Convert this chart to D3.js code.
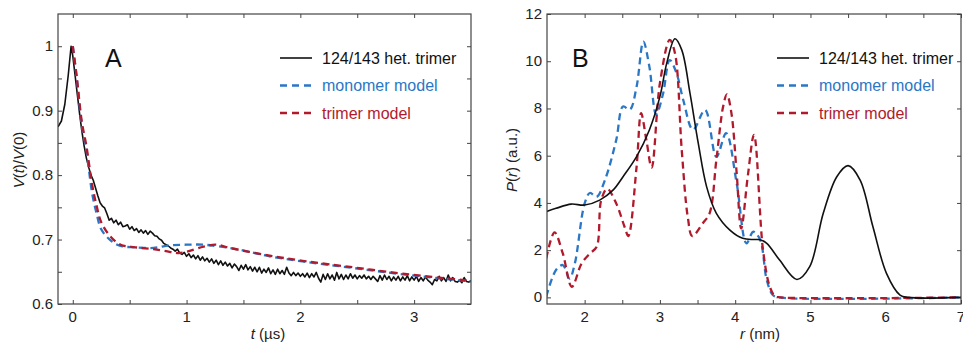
<!DOCTYPE html>
<html>
<head>
<meta charset="utf-8">
<script src="https://cdnjs.cloudflare.com/ajax/libs/d3/7.8.5/d3.min.js"></script>
<style>
  body { margin: 0; background: #fff; }
  svg { font-family: "Liberation Sans", Arial, sans-serif; }
</style>
</head>
<body>
<svg id="chart" width="963" height="343"></svg>
<script>
// ---- data ----
// panel A: dipolar evolution V(t)/V(0), t in µs
const expA = [
  [-0.13,0.875],[-0.10,0.884],[-0.07,0.91],[-0.04,0.955],[-0.015,1.0],[0.0,0.985],[0.02,0.955],
  [0.04,0.925],[0.06,0.895],[0.08,0.868],[0.10,0.845],[0.12,0.826],[0.14,0.812],[0.16,0.80],
  [0.18,0.792],[0.20,0.78],[0.22,0.768],[0.24,0.757],[0.26,0.752],[0.28,0.749],[0.30,0.74],
  [0.32,0.73],[0.34,0.733],[0.36,0.726],[0.38,0.730],[0.40,0.723],[0.42,0.727],[0.44,0.720],
  [0.46,0.721],[0.48,0.723],[0.50,0.716],[0.52,0.720],[0.54,0.714],[0.56,0.717],[0.58,0.711],
  [0.60,0.715],[0.62,0.710],[0.64,0.714],[0.66,0.708],[0.68,0.713],[0.70,0.71],[0.72,0.706],
  [0.74,0.705],[0.76,0.701],[0.78,0.699],[0.80,0.694],[0.82,0.692],[0.84,0.69],[0.86,0.687],
  [0.88,0.685],[0.90,0.682],[0.92,0.685],[0.94,0.679],[0.96,0.677],[0.98,0.680],[1.00,0.674],
  [1.02,0.678],[1.04,0.672],[1.06,0.676],[1.08,0.670],[1.10,0.675],[1.12,0.668],[1.14,0.673],
  [1.16,0.667],[1.18,0.671],[1.20,0.665],[1.22,0.670],[1.24,0.663],[1.26,0.668],[1.28,0.661],
  [1.30,0.667],[1.32,0.660],[1.34,0.665],[1.36,0.659],[1.38,0.663],[1.40,0.656],[1.42,0.662],
  [1.44,0.658],[1.46,0.652],[1.48,0.660],[1.50,0.654],[1.52,0.661],[1.54,0.653],[1.56,0.658],
  [1.58,0.651],[1.60,0.657],[1.62,0.650],[1.64,0.657],[1.66,0.648],[1.68,0.654],[1.70,0.649],
  [1.72,0.656],[1.74,0.647],[1.76,0.653],[1.78,0.646],[1.80,0.654],[1.82,0.647],[1.84,0.652],
  [1.86,0.646],[1.88,0.657],[1.90,0.648],[1.92,0.644],[1.94,0.649],[1.96,0.644],[1.98,0.648],
  [2.00,0.643],[2.02,0.647],[2.04,0.642],[2.06,0.648],[2.08,0.641],[2.10,0.647],[2.12,0.642],
  [2.14,0.649],[2.16,0.640],[2.18,0.634],[2.20,0.646],[2.22,0.638],[2.24,0.647],[2.26,0.639],
  [2.28,0.645],[2.30,0.637],[2.32,0.649],[2.34,0.639],[2.36,0.646],[2.38,0.638],[2.40,0.645],
  [2.42,0.639],[2.44,0.647],[2.46,0.640],[2.48,0.645],[2.50,0.639],[2.52,0.644],[2.54,0.640],
  [2.56,0.645],[2.58,0.639],[2.60,0.643],[2.62,0.638],[2.64,0.643],[2.66,0.639],[2.68,0.635],
  [2.70,0.644],[2.72,0.637],[2.74,0.645],[2.76,0.638],[2.78,0.643],[2.80,0.636],[2.82,0.642],
  [2.84,0.637],[2.86,0.643],[2.88,0.636],[2.90,0.642],[2.92,0.637],[2.94,0.644],[2.96,0.636],
  [2.98,0.642],[3.00,0.637],[3.02,0.643],[3.04,0.635],[3.06,0.641],[3.08,0.636],[3.10,0.642],
  [3.12,0.637],[3.14,0.634],[3.16,0.630],[3.18,0.638],[3.20,0.636],[3.22,0.643],[3.24,0.636],
  [3.26,0.641],[3.28,0.635],[3.30,0.645],[3.32,0.636],[3.34,0.641],[3.36,0.635],[3.38,0.634],
  [3.40,0.637],[3.42,0.633],[3.44,0.641],[3.46,0.635],[3.48,0.634],[3.50,0.636]
];
const monomerA = [
  [0.0,1.0],[0.035,0.95],[0.08,0.876],[0.12,0.838],[0.17,0.772],[0.21,0.74],[0.25,0.716],
  [0.33,0.699],[0.42,0.69],[0.55,0.688],[0.71,0.687],[0.85,0.691],[1.0,0.692],[1.15,0.692],
  [1.38,0.687],[1.55,0.681],[1.73,0.674],[2.02,0.666],[2.46,0.656],[2.9,0.646],[3.5,0.635]
];
const trimerA = [
  [0.0,1.0],[0.035,0.952],[0.08,0.882],[0.12,0.845],[0.17,0.785],[0.21,0.752],[0.25,0.727],
  [0.33,0.705],[0.42,0.692],[0.55,0.688],[0.71,0.685],[0.85,0.681],[0.93,0.679],[1.0,0.681],
  [1.15,0.689],[1.26,0.692],[1.38,0.687],[1.55,0.681],[1.73,0.675],[2.02,0.667],[2.46,0.657],
  [2.9,0.647],[3.5,0.636]
];

// panel B: distance distributions P(r), r in nm
const expB = [
  [1.49,3.63],[1.62,3.77],[1.82,3.95],[2.0,3.91],[2.2,4.12],[2.38,4.55],[2.51,5.11],[2.69,5.96],
  [2.86,7.09],[3.0,8.5],[3.09,9.91],[3.2,10.95],[3.29,10.48],[3.4,8.64],[3.51,6.52],[3.62,4.69],
  [3.75,3.56],[3.93,2.85],[4.1,2.5],[4.25,2.45],[4.33,2.44],[4.42,2.29],[4.59,1.58],[4.82,0.76],
  [4.99,1.3],[5.17,3.56],[5.35,5.11],[5.5,5.58],[5.66,4.97],[5.83,2.99],[6.01,1.02],[6.19,0.1],
  [6.3,0.0],[7.0,0.0]
];
const monomerB = [
  [1.49,0.03],[1.62,1.16],[1.71,1.37],[1.8,0.8],[1.87,1.44],[2.0,3.98],[2.07,4.42],[2.16,4.26],
  [2.27,4.97],[2.42,6.67],[2.51,8.08],[2.6,7.95],[2.69,8.92],[2.78,10.83],[2.86,9.77],[2.95,7.75],
  [3.04,8.6],[3.13,10.05],[3.22,9.5],[3.31,8.36],[3.44,7.1],[3.6,7.94],[3.75,5.95],[3.88,6.95],
  [4.02,4.83],[4.15,2.29],[4.24,2.78],[4.33,2.45],[4.42,0.73],[4.5,0.1],[4.58,0.0],[7.0,0.0]
];
const trimerB = [
  [1.49,1.65],[1.6,2.75],[1.71,1.86],[1.83,0.45],[1.96,1.44],[2.07,1.86],[2.16,2.14],[2.22,4.12],
  [2.3,4.6],[2.42,3.98],[2.53,2.99],[2.58,2.6],[2.69,5.53],[2.75,7.8],[2.82,6.67],[2.89,5.5],
  [3.0,9.07],[3.13,10.9],[3.2,10.34],[3.29,6.24],[3.37,3.41],[3.43,2.6],[3.57,3.14],[3.66,3.56],
  [3.75,5.82],[3.84,8.08],[3.89,8.6],[3.95,7.8],[4.02,5.25],[4.08,2.92],[4.17,5.2],[4.25,6.88],
  [4.37,2.0],[4.46,0.45],[4.53,0.05],[4.6,0.0],[7.0,0.0]
];

const legendLabels = ['124/143 het. trimer', 'monomer model', 'trimer model'];
const ticksA_x = [0, 1, 2, 3];
const ticksA_y = [0.6, 0.7, 0.8, 0.9, 1];
const ticksB_x = [2, 3, 4, 5, 6, 7];
const ticksB_y = [0, 2, 4, 6, 8, 10, 12];

const BLACK = '#111', BLUE = '#2a77c6', RED = '#b11a2c';

const svg = d3.select('#chart');

function panel(opts) {
  const { left, right, top, bottom } = opts.box;
  const x = d3.scaleLinear().domain(opts.xDomain).range([left, right]);
  const y = d3.scaleLinear().domain(opts.yDomain).range([bottom, top]);
  const g = svg.append('g');

  const clipId = 'clip-' + opts.name;
  svg.append('clipPath').attr('id', clipId)
    .append('rect').attr('x', left).attr('y', top)
    .attr('width', right - left).attr('height', bottom - top);

  // ticks on all four sides, pointing inward
  const tickLen = 4;
  const xb = d3.axisBottom(x).tickValues(opts.xMinor).tickSize(-tickLen).tickFormat('');
  const xt = d3.axisTop(x).tickValues(opts.xMinor).tickSize(-tickLen).tickFormat('');
  const yl = d3.axisLeft(y).tickValues(opts.yMinor).tickSize(-tickLen).tickFormat('');
  const yr = d3.axisRight(y).tickValues(opts.yMinor).tickSize(-tickLen).tickFormat('');
  g.append('g').attr('transform', `translate(0,${bottom})`).call(xb);
  g.append('g').attr('transform', `translate(0,${top})`).call(xt);
  g.append('g').attr('transform', `translate(${left},0)`).call(yl);
  g.append('g').attr('transform', `translate(${right},0)`).call(yr);
  g.selectAll('.domain').remove();
  g.selectAll('.tick line').attr('stroke', '#444').attr('stroke-width', 1);

  // tick labels
  g.append('g').selectAll('text').data(opts.xTicks).join('text')
    .attr('x', d => x(d)).attr('y', bottom + 18)
    .attr('text-anchor', 'middle').attr('font-size', 15).attr('fill', '#222')
    .text(d => d);
  g.append('g').selectAll('text').data(opts.yTicks).join('text')
    .attr('x', left - 5).attr('y', d => y(d) + 5)
    .attr('text-anchor', 'end').attr('font-size', 15).attr('fill', '#222')
    .text(d => d);

  const line = d3.line().x(d => x(d[0])).y(d => y(d[1]));
  const plot = g.append('g').attr('clip-path', `url(#${clipId})`);
  opts.series.forEach(s => {
    plot.append('path').datum(s.data)
      .attr('fill', 'none').attr('stroke', s.color)
      .attr('stroke-width', s.dash ? 2.3 : 1.6)
      .attr('stroke-dasharray', s.dash ? '7,4.5' : null)
      .attr('stroke-linejoin', 'round')
      .attr('d', line.curve(s.smooth ? d3.curveCatmullRom.alpha(0.5) : d3.curveLinear));
  });

  // frame
  g.append('rect').attr('x', left).attr('y', top)
    .attr('width', right - left).attr('height', bottom - top)
    .attr('fill', 'none').attr('stroke', '#444').attr('stroke-width', 1.2);

  // panel letter
  g.append('text').attr('x', opts.letterX).attr('y', 67)
    .attr('font-size', 25).attr('fill', '#111').text(opts.name);

  // legend
  const lg = g.append('g').attr('transform', `translate(${opts.legendX},0)`);
  const legendStyle = [
    { color: BLACK, dash: false, text: '#111' },
    { color: BLUE, dash: true, text: BLUE },
    { color: RED, dash: true, text: RED }
  ];
  legendLabels.forEach((lab, i) => {
    const yy = 58 + i * 27.5;
    lg.append('line').attr('x1', 0).attr('x2', 32).attr('y1', yy).attr('y2', yy)
      .attr('stroke', legendStyle[i].color)
      .attr('stroke-width', legendStyle[i].dash ? 2.3 : 1.6)
      .attr('stroke-dasharray', legendStyle[i].dash ? '7,5' : null);
    lg.append('text').attr('x', 42).attr('y', yy + 5.5)
      .attr('font-size', 16).attr('fill', legendStyle[i].text).text(lab);
  });

  return { x, y, g };
}

// panel A
const A = panel({
  name: 'A',
  box: { left: 58, right: 471, top: 14, bottom: 304 },
  xDomain: [-0.13, 3.5], yDomain: [0.6, 1.05],
  xTicks: ticksA_x, yTicks: ticksA_y,
  xMinor: [0, 0.5, 1, 1.5, 2, 2.5, 3],
  yMinor: [0.6, 0.65, 0.7, 0.75, 0.8, 0.85, 0.9, 0.95, 1],
  series: [
    { data: expA, color: BLACK, dash: false, smooth: false },
    { data: monomerA, color: BLUE, dash: true, smooth: true },
    { data: trimerA, color: RED, dash: true, smooth: true }
  ],
  letterX: 105, legendX: 280
});
A.g.append('text').attr('transform', 'translate(24,160) rotate(-90)')
  .attr('text-anchor', 'middle').attr('font-size', 15).attr('fill', '#222')
  .call(t => {
    t.append('tspan').attr('font-style', 'italic').text('V');
    t.append('tspan').text('(');
    t.append('tspan').attr('font-style', 'italic').text('t');
    t.append('tspan').text(')/');
    t.append('tspan').attr('font-style', 'italic').text('V');
    t.append('tspan').text('(0)');
  });
A.g.append('text').attr('x', 268).attr('y', 339)
  .attr('text-anchor', 'middle').attr('font-size', 15).attr('fill', '#222')
  .call(t => {
    t.append('tspan').attr('font-style', 'italic').text('t');
    t.append('tspan').text(' (µs)');
  });

// panel B
const B = panel({
  name: 'B',
  box: { left: 547, right: 961, top: 14, bottom: 304 },
  xDomain: [1.5, 7], yDomain: [-0.28, 12],
  xTicks: ticksB_x, yTicks: ticksB_y,
  xMinor: [2, 2.5, 3, 3.5, 4, 4.5, 5, 5.5, 6, 6.5, 7],
  yMinor: [0, 2, 4, 6, 8, 10, 12],
  series: [
    { data: monomerB, color: BLUE, dash: true, smooth: true },
    { data: trimerB, color: RED, dash: true, smooth: true },
    { data: expB, color: BLACK, dash: false, smooth: true }
  ],
  letterX: 572, legendX: 777
});
B.g.append('text').attr('transform', 'translate(517,160) rotate(-90)')
  .attr('text-anchor', 'middle').attr('font-size', 15).attr('fill', '#222')
  .call(t => {
    t.append('tspan').attr('font-style', 'italic').text('P');
    t.append('tspan').text('(');
    t.append('tspan').attr('font-style', 'italic').text('r');
    t.append('tspan').text(') (a.u.)');
  });
B.g.append('text').attr('x', 760).attr('y', 339)
  .attr('text-anchor', 'middle').attr('font-size', 15).attr('fill', '#222')
  .call(t => {
    t.append('tspan').attr('font-style', 'italic').text('r');
    t.append('tspan').text(' (nm)');
  });
</script>
</body>
</html>
